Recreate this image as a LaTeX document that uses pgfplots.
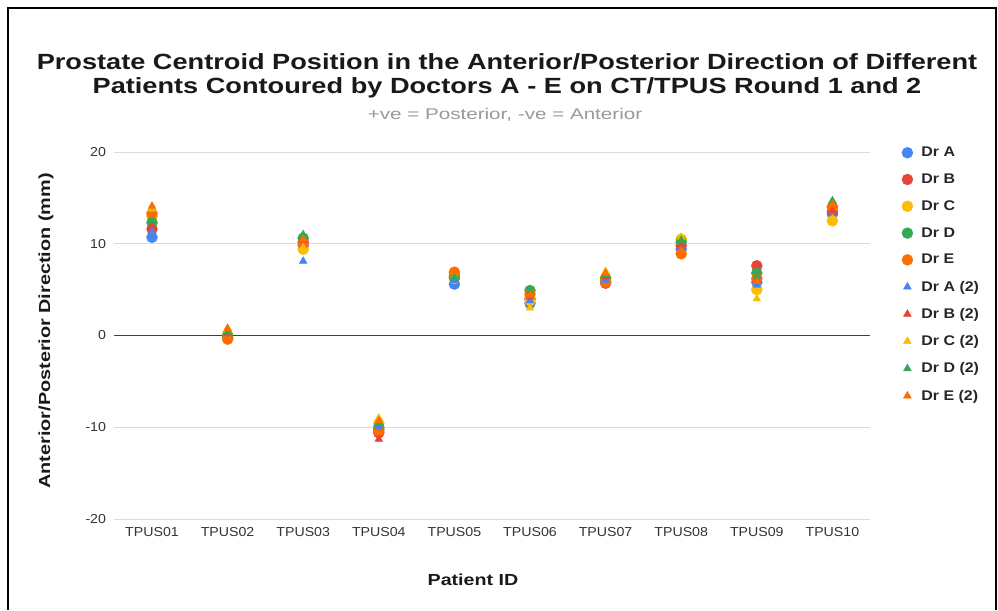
\documentclass[border=0pt]{standalone}
\usepackage{graphicx}
\usepackage{pgfplots}
\pgfplotsset{compat=1.18}
\usepackage{pgfplotstable}
\usepackage{fontspec}
\setmainfont{Liberation Sans}
\definecolor{cA}{HTML}{4285F4}
\definecolor{cB}{HTML}{EA4335}
\definecolor{cC}{HTML}{FBBC04}
\definecolor{cD}{HTML}{34A853}
\definecolor{cE}{HTML}{FF6D01}
\pgfplotstableread{
x A B C D E A2 B2 C2 D2 E2
0 10.7 11.6 13.0 12.3 13.3 11.3 12.0 13.8 12.5 14.1
1 -0.3 -0.2 0.1 0.0 -0.4 0.2 0.3 0.5 0.4 0.8
2 9.8 10.2 9.4 10.6 10.0 8.1 10.4 9.6 11.0 10.5
3 -10.2 -10.6 -9.6 -10.0 -10.4 -10.0 -11.3 -9.0 -9.6 -9.3
4 5.6 6.5 6.2 6.3 6.9 6.0 6.6 6.5 6.4 7.0
5 3.5 4.0 3.8 4.9 4.5 3.8 4.2 3.0 4.8 4.4
6 5.9 5.7 6.3 6.2 5.8 6.0 6.4 7.0 6.6 6.8
7 9.4 9.8 10.5 10.2 8.9 9.6 9.9 10.7 10.4 9.2
8 5.8 7.6 5.0 6.8 6.2 5.5 6.0 4.0 6.5 5.9
9 13.2 13.5 12.5 14.0 14.0 13.3 13.6 12.7 14.7 14.3
}\data
\begin{document}
\begin{tikzpicture}[x=1pt,y=1pt]
\path (0,0) rectangle (998,610);
\draw[black, line width=1.3pt] (8,0) -- (8,602) -- (996,602) -- (996,0);
\node[font=\bfseries\fontsize{22}{24.5}\selectfont, align=center, text=black!90, xscale=1.235] at (507,534)
  {Prostate Centroid Position in the Anterior/Posterior Direction of Different\\Patients Contoured by Doctors A - E on CT/TPUS Round 1 and 2};
\node[font=\fontsize{15.5}{17}\selectfont, text=black!40, xscale=1.33] at (505,495) {+ve = Posterior, -ve = Anterior};
\node[rotate=90, font=\bfseries\fontsize{16}{18}\selectfont, text=black!90] at (46,279) {\scalebox{1.24}[1]{Anterior/Posterior Direction (mm)}};
\node[font=\bfseries\fontsize{16}{18}\selectfont, text=black!90, xscale=1.23] at (473,30) {Patient ID};
\begin{axis}[
  at={(152pt,274.5pt)}, anchor=origin, scale only axis,
  width=756pt, height=367pt,
  xmin=-0.5, xmax=9.5, ymin=-20, ymax=20,
  ytick={-20,-10,0,10,20},
  xtick={0,...,9},
  xticklabels={TPUS01,TPUS02,TPUS03,TPUS04,TPUS05,TPUS06,TPUS07,TPUS08,TPUS09,TPUS10},
  /pgf/number format/assume math mode=true,
  ticklabel style={font=\fontsize{13}{15}\selectfont, text=black!80, xscale=1.09},
  xticklabel style={yshift=-5pt},
  yticklabel style={xshift=-4pt},
  axis line style={draw=none},
  tick style={draw=none},
  ymajorgrids, grid style={black!14, line width=0.8pt},
  extra y ticks={0}, extra y tick labels={},
  extra y tick style={grid style={black!75, line width=1.2pt}},
  clip=false,
  legend style={at={(1.0344,1.0245)}, anchor=north west, draw=none, fill=none,
    font=\bfseries\fontsize{14}{16}\selectfont, row sep=11.6pt,
    cells={anchor=west}, text=black!85},
  legend image code/.code={\path (0pt,0pt) rectangle (20pt,0pt); \draw[#1] plot coordinates {(8pt,0pt)};},
]
\addplot[only marks, mark=*, mark size=5.5pt, cA, draw=none] table[x=x,y=A]{\data};
\addlegendentry{\scalebox{1.14}[1]{Dr A}}
\addplot[only marks, mark=*, mark size=5.5pt, cB, draw=none] table[x=x,y=B]{\data};
\addlegendentry{\scalebox{1.14}[1]{Dr B}}
\addplot[only marks, mark=*, mark size=5.5pt, cC, draw=none] table[x=x,y=C]{\data};
\addlegendentry{\scalebox{1.14}[1]{Dr C}}
\addplot[only marks, mark=*, mark size=5.5pt, cD, draw=none] table[x=x,y=D]{\data};
\addlegendentry{\scalebox{1.14}[1]{Dr D}}
\addplot[only marks, mark=*, mark size=5.5pt, cE, draw=none] table[x=x,y=E]{\data};
\addlegendentry{\scalebox{1.14}[1]{Dr E}}
\addplot[only marks, mark=triangle*, mark size=4.5pt, cA, draw=none] table[x=x,y=A2]{\data};
\addlegendentry{\scalebox{1.14}[1]{Dr A (2)}}
\addplot[only marks, mark=triangle*, mark size=4.5pt, cB, draw=none] table[x=x,y=B2]{\data};
\addlegendentry{\scalebox{1.14}[1]{Dr B (2)}}
\addplot[only marks, mark=triangle*, mark size=4.5pt, cC, draw=none] table[x=x,y=C2]{\data};
\addlegendentry{\scalebox{1.14}[1]{Dr C (2)}}
\addplot[only marks, mark=triangle*, mark size=4.5pt, cD, draw=none] table[x=x,y=D2]{\data};
\addlegendentry{\scalebox{1.14}[1]{Dr D (2)}}
\addplot[only marks, mark=triangle*, mark size=4.5pt, cE, draw=none] table[x=x,y=E2]{\data};
\addlegendentry{\scalebox{1.14}[1]{Dr E (2)}}
\end{axis}
\end{tikzpicture}
\end{document}
